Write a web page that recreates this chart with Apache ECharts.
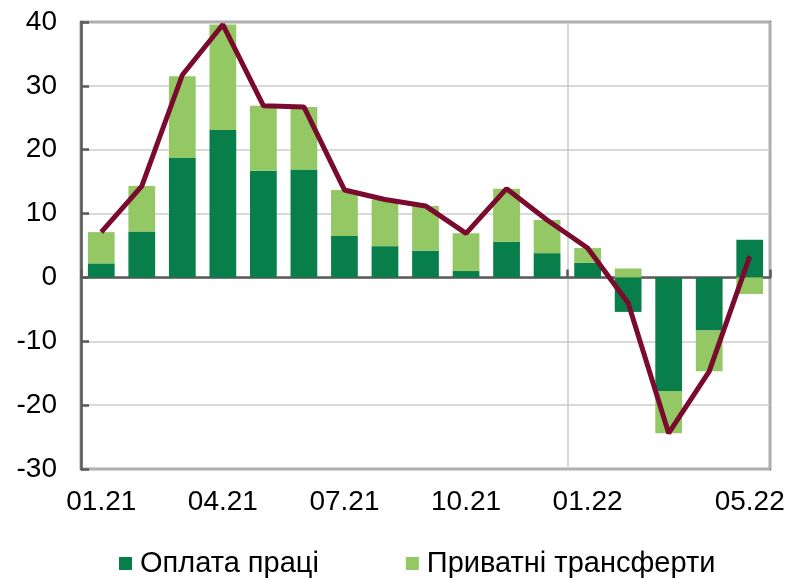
<!DOCTYPE html>
<html>
<head>
<meta charset="utf-8">
<script src="https://cdn.jsdelivr.net/npm/echarts@6/dist/echarts.min.js"></script>
<style>
  html, body { margin: 0; padding: 0; background: #fff; }
  #chart { width: 788px; height: 578px; }
</style>
</head>
<body>
<div id="chart"></div>
<script>
// months 01.21 .. 05.22
var months = ['01.21','02.21','03.21','04.21','05.21','06.21','07.21','08.21','09.21',
              '10.21','11.21','12.21','01.22','02.22','03.22','04.22','05.22'];
var labelIdx = [0, 3, 6, 9, 12, 16];

var wages     = [2.2, 7.2, 18.7, 23.1, 16.7, 16.9, 6.5, 4.9, 4.2, 1.0, 5.6, 3.8, 2.3, -5.4, -17.8, -8.3, 5.9];
var transfers = [4.9, 7.1, 12.8, 16.5, 10.2, 9.8, 7.2, 7.3, 7.0, 5.9, 8.3, 5.2, 2.3, 1.4, -6.6, -6.4, -2.6];
var total     = [7.1, 14.3, 31.7, 39.6, 26.9, 26.7, 13.7, 12.2, 11.2, 6.9, 13.9, 9.0, 4.6, -4.0, -24.4, -14.7, 3.3];

var yTicks = { min: -30, max: 40, step: 10 };

var axisGray = '#5a5a5a';
var font = 'Liberation Sans, Arial, sans-serif';

var chart = echarts.init(document.getElementById('chart'));
chart.setOption({
  animation: false,
  textStyle: { fontFamily: font },
  grid: {
    left: 81, right: 18, top: 22, bottom: 109,
    show: true, borderColor: axisGray, borderWidth: 2.5, backgroundColor: 'transparent'
  },
  legend: {
    data: ['Оплата праці', 'Приватні трансферти'],
    left: 114, top: 544,
    itemWidth: 13, itemHeight: 13, itemGap: 87,
    icon: 'rect',
    textStyle: { fontSize: 29, color: '#000', fontFamily: font, padding: [0, 0, 0, 3] }
  },
  xAxis: [{
    type: 'category',
    data: months,
    position: 'bottom',
    axisLine: { show: false, onZero: false },
    axisTick: { show: false },
    axisLabel: {
      interval: function (i) { return labelIdx.indexOf(i) >= 0; },
      fontSize: 28, color: '#000', margin: 19, fontFamily: font
    },
    splitLine: {
      show: true,
      interval: 11,
      lineStyle: { color: '#c9cdcd', width: 1.5 }
    }
  }, {
    type: 'category',
    data: months,
    position: 'bottom',
    axisLine: { show: true, onZero: true, lineStyle: { color: axisGray, width: 2.5 } },
    axisTick: {
      show: true, inside: true, length: 8,
      interval: 11,
      lineStyle: { color: axisGray, width: 2.5 }
    },
    axisLabel: { show: false },
    splitLine: { show: false }
  }],
  yAxis: {
    type: 'value',
    min: yTicks.min, max: yTicks.max, interval: yTicks.step,
    axisLine: { show: true, lineStyle: { color: axisGray, width: 2.5 } },
    axisTick: { show: true, inside: true, length: 8, lineStyle: { color: axisGray, width: 2.5 } },
    axisLabel: { fontSize: 28, color: '#000', margin: 24, fontFamily: font },
    splitLine: { lineStyle: { color: '#cccccc', width: 1.5 } }
  },
  series: [{
    name: 'Оплата праці',
    type: 'bar',
    stack: 'total',
    barWidth: '66%',
    itemStyle: { color: '#087f4a' },
    data: wages
  }, {
    name: 'Приватні трансферти',
    type: 'bar',
    stack: 'total',
    barWidth: '66%',
    itemStyle: { color: '#93c864' },
    data: transfers
  }, {
    name: 'Разом',
    type: 'line',
    symbol: 'none',
    lineStyle: { color: '#7a0a2e', width: 5 },
    data: total,
    z: 5
  }]
});
</script>
</body>
</html>
